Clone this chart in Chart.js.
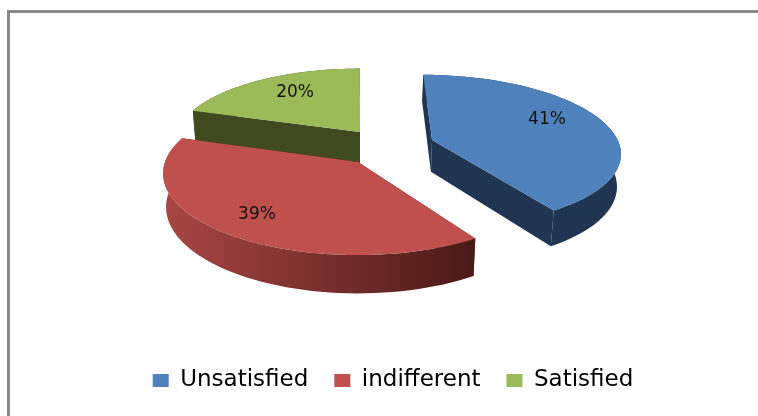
<!DOCTYPE html>
<html lang="en">
<head>
    <meta charset="UTF-8">
    <title>Satisfaction</title>
    <script src="https://cdn.jsdelivr.net/npm/chart.js"></script>
    <style>
        html, body { margin: 0; background: #fff; }
        #wrap { position: relative; width: 758px; height: 416px; overflow: hidden; }
        #frame { position: absolute; left: 7px; top: 10px; right: -10px; bottom: -10px;
                 border-left: 3px solid #8a8a8a; border-top: 3px solid #8a8a8a; }
        #satisfactionChart { position: absolute; left: 0; top: 0; }
    </style>
</head>
<body>
    <div id="wrap">
        <div id="frame"></div>
        <canvas id="satisfactionChart" width="758" height="416"></canvas>
    </div>

    <script>
        const categories = ['Unsatisfied', 'indifferent', 'Satisfied'];
        const shares = [41, 39, 20];

        const topColors = ['#4f81bd', '#c0504d', '#9bbb59'];
        const wallColors = ['#1f3552', '#5e2220', '#404a20'];
        const rimColors = [['#1f3552', '#1f3552'], ['#a84643', '#4a1a17'], ['#404a20', '#404a20']];

        // how far each slice sits from the pie centre, in radius units (u right, v towards viewer)
        const sliceShift = [[0.399, -0.286], [0, 0], [0.011, -0.396]];
        // percent label spot, relative to the slice's own apex
        const labelSpot = [[0.658, -0.281], [-0.479, 0.606], [-0.382, -0.585]];

        // tilted view of the pie: a perspective projection of the unit circle
        const view = { cx: 358, cy: 162, a: 193, b: 80, k: 0.14, depth: 33, shrink: 0.985 };

        function project(u, v) {
            let w = 1 - view.k * v;
            return { x: view.cx + view.a * u / w, y: view.cy + view.b * v / w };
        }

        function projectBottom(u, v) {
            let w = 1 - view.k * v;
            let p = project(u, v);
            return { x: view.cx + (p.x - view.cx) * view.shrink, y: p.y + view.depth / w };
        }

        function rimPoints(arc, shift, fn) {
            let pts = [];
            let steps = 60;
            for (let i = 0; i <= steps; i++) {
                let t = arc.startAngle + (arc.endAngle - arc.startAngle) * i / steps;
                pts.push(fn(shift[0] + Math.cos(t), shift[1] + Math.sin(t)));
            }
            return pts;
        }

        function fillPoly(ctx, pts, fill) {
            ctx.beginPath();
            pts.forEach((p, i) => i ? ctx.lineTo(p.x, p.y) : ctx.moveTo(p.x, p.y));
            ctx.closePath();
            ctx.fillStyle = fill;
            ctx.fill();
        }

        function drawSlice(ctx, arc, i) {
            let shift = sliceShift[i];
            let top = rimPoints(arc, shift, project);
            let bottom = rimPoints(arc, shift, projectBottom);
            let apexTop = project(shift[0], shift[1]);
            let apexBottom = projectBottom(shift[0], shift[1]);
            let last = top.length - 1;

            // inner walls
            fillPoly(ctx, [apexTop, top[0], bottom[0], apexBottom], wallColors[i]);
            fillPoly(ctx, [apexTop, top[last], bottom[last], apexBottom], wallColors[i]);

            // outer rim, shaded left to right
            let xs = top.map(p => p.x);
            let shade = ctx.createLinearGradient(Math.min(...xs), 0, Math.max(...xs), 0);
            shade.addColorStop(0, rimColors[i][0]);
            shade.addColorStop(1, rimColors[i][1]);
            fillPoly(ctx, top.concat(bottom.slice().reverse()), shade);

            fillPoly(ctx, [apexTop].concat(top), topColors[i]);
        }

        // the doughnut controller works out the angles, this draws them tilted
        const tiltedPie = {
            id: 'tiltedPie',
            beforeDatasetsDraw(chart) {
                let ctx = chart.ctx;
                let arcs = chart.getDatasetMeta(0).data;
                ctx.save();
                [2, 1, 0].forEach(i => drawSlice(ctx, arcs[i], i));

                ctx.fillStyle = '#111';
                ctx.font = '17px "DejaVu Sans"';
                ctx.textAlign = 'center';
                ctx.textBaseline = 'middle';
                arcs.forEach((arc, i) => {
                    let p = project(sliceShift[i][0] + labelSpot[i][0], sliceShift[i][1] + labelSpot[i][1]);
                    ctx.fillText(shares[i] + '%', p.x, p.y);
                });
                ctx.restore();
                return false;
            }
        };

        new Chart(document.getElementById('satisfactionChart').getContext('2d'), {
            type: 'pie',
            data: {
                labels: categories,
                datasets: [{ data: shares, backgroundColor: topColors, borderWidth: 0 }]
            },
            options: {
                responsive: false,
                animation: false,
                layout: { padding: { left: 28, bottom: 14 } },
                plugins: {
                    tooltip: { enabled: false },
                    legend: {
                        position: 'bottom',
                        labels: {
                            boxWidth: 16,
                            boxHeight: 13,
                            padding: 26,
                            color: '#000',
                            font: { family: '"DejaVu Sans"', size: 23 }
                        }
                    }
                }
            },
            plugins: [tiltedPie]
        });
    </script>
</body>
</html>
